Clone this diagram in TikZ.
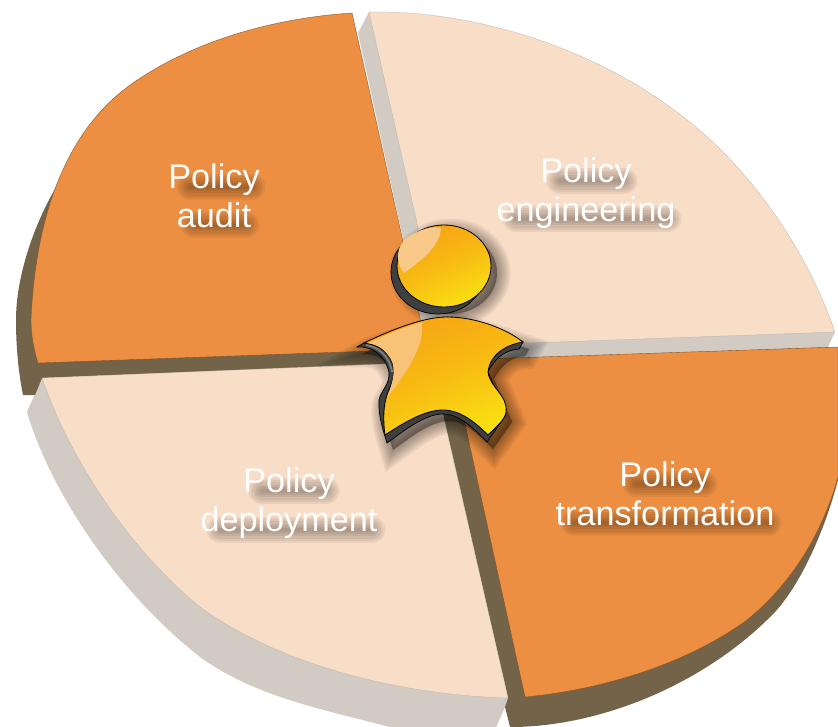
\documentclass[tikz,border=0pt]{standalone}
\usepackage{fontspec}
\usepackage{xcolor}
\setmainfont{Liberation Sans}

\definecolor{sectorOrange}{HTML}{EC8F42}
\definecolor{sectorCream}{HTML}{F8DDC7}
\definecolor{sideGrey}{HTML}{D1CBC4}
\definecolor{sideBrown}{HTML}{736349}
\definecolor{figOrange}{HTML}{F7A314}
\definecolor{figYellow}{HTML}{F9E012}
\definecolor{figDark}{HTML}{3E3F40}

\newcommand{\bodyfront}{(364,343) .. controls (395,328) and (425,317) .. (447,317) .. controls (475,317) and (505,328) .. (523,342)
  .. controls (505,345) and (490,355) .. (488,372) .. controls (490,388) and (508,395) .. (506,412) .. controls (505,420) and (495,428) .. (488,435)
  .. controls (475,422) and (460,410) .. (443,410) .. controls (425,410) and (405,422) .. (385,435)
  .. controls (383,420) and (383,405) .. (388,392) .. controls (395,378) and (396,365) .. (388,355) .. controls (382,347) and (372,344) .. (364,343) -- cycle}
\newcommand{\bodyback}{(357,347) .. controls (372,346) and (385,355) .. (389,372) .. controls (390,385) and (381,390) .. (379,400)
  .. controls (378,415) and (383,430) .. (387,443) .. controls (405,430) and (425,414) .. (443,414) .. controls (460,414) and (475,430) .. (487,442)
  -- (506,415) -- (488,372) .. controls (495,358) and (505,350) .. (519,349) -- (523,342) -- (447,317) -- (364,343) -- cycle}

\begin{document}
\begin{tikzpicture}[x=0.03cm,y=-0.03cm,
   orange sector/.style={fill=sectorOrange,draw=sectorOrange!55!black,line width=0.3pt},
   cream sector/.style={fill=sectorCream,draw=sideGrey!85!black,line width=0.2pt},
   grey side/.style={fill=sideGrey},
   brown side/.style={fill=sideBrown},
   figure part/.style={draw=black,line width=0.7pt,top color=figOrange,bottom color=figYellow,middle color=figOrange!60!figYellow,shading angle=25},
   figure back/.style={fill=figDark,draw=black,line width=0.6pt},
   figure gloss/.style={fill=#1},
   label blur/.style={black,opacity=0.055,line cap=round},
   sector label/.style={text=white!96!sectorCream,align=center,font=\fontsize{29.2}{33.4}\selectfont}]

  \useasboundingbox (0,0) rectangle (838,727);
  \clip (0,0) rectangle (838,727);

  % sides of the slab
  \fill[grey side] (369,12) -- (358,33) -- (420,316) -- (431,362) -- (838,347) -- (828,347) -- (835,332) -- cycle;
  \fill[grey side] (42,378) -- (27,412) .. controls (50,490) and (115,590) .. (200,657) .. controls (260,700) and (330,710) .. (400,730) -- (495,730) -- (505,707) -- (508,698) -- cycle;
  \fill[brown side] (431,362) -- (508,698) -- (505,707) -- (510,727) .. controls (600,727) and (700,685) .. (767,620) .. controls (795,595) and (822,540) .. (838,480) -- (838,347) -- cycle;
  \fill[brown side] (64,175) .. controls (44,203) and (16,265) .. (16,320) .. controls (16,350) and (19,375) .. (23,395) -- (35,395) -- (42,378) -- (440,362) -- (427,349) -- cycle;

  % the four sectors
  \draw[cream sector] (369,12) .. controls (470,10) and (585,45) .. (670,107) .. controls (745,160) and (805,245) .. (835,332) -- (445,346) -- cycle;
  \draw[orange sector] (352,13) .. controls (275,18) and (195,40) .. (133,83) .. controls (72,125) and (36,205) .. (31,320) .. controls (31,335) and (34,350) .. (38,363) -- (427,349) -- cycle;
  \draw[cream sector] (42,378) .. controls (70,460) and (130,550) .. (200,607) .. controls (280,665) and (400,695) .. (508,698) -- (431,362) -- cycle;
  \draw[orange sector] (451,360) -- (525,697) .. controls (600,690) and (685,665) .. (747,620) .. controls (790,585) and (822,535) .. (838,477) -- (838,347) -- cycle;

  % soft shadows under the labels
  \foreach \xa/\xb/\yy in {190/252/187,194/246/225,560/624/181,516/668/219,262/326/491,220/372/530,636/704/484,574/768/523}
    \foreach \w in {3,7,11,15,19,23}
      \draw[label blur,line width=\w pt] (\xa,\yy) -- (\xb,\yy);

  \node[sector label] (audit) at (214,196) {Policy\\audit};
  \node[sector label] (engineering) at (586,193.5) {Policy\\engineering};
  \node[sector label] (deployment) at (289,503) {Policy\\deployment};
  \node[sector label] (transformation) at (665,494) {Policy\\transformation};

  % soft shadow of the figure
  \foreach \w in {2,5,8,11,14,17,20,23} {
    \filldraw[shift={(6,7)},black,opacity=0.05,line width=\w pt] (444,266) ellipse [x radius=47,y radius=41];
    \filldraw[shift={(6,7)},black,opacity=0.05,line width=\w pt] \bodyback;
  }

  % head
  \draw[figure back] (438,272) ellipse [x radius=47,y radius=42];
  \path[figure part] (444,266) ellipse [x radius=47,y radius=41];
  \fill[figure gloss=figOrange!35!sectorCream] (441,228) .. controls (440,245) and (425,258) .. (404,273) .. controls (395,262) and (396,245) .. (408,237) .. controls (420,229) and (432,226) .. (441,228) -- cycle;

  % body
  \draw[figure back] \bodyback;
  \draw[gray,line width=1.6pt] (366,345) .. controls (378,347) and (389,355) .. (392,372);
  \path[figure part] \bodyfront;
  \fill[figure gloss=figOrange!45!sectorCream] (368,343) .. controls (385,335) and (405,327) .. (422,322) .. controls (424,345) and (412,365) .. (387,398) .. controls (394,380) and (397,365) .. (388,355) .. controls (382,347) and (375,344) .. (368,343) -- cycle;
\end{tikzpicture}
\end{document}
